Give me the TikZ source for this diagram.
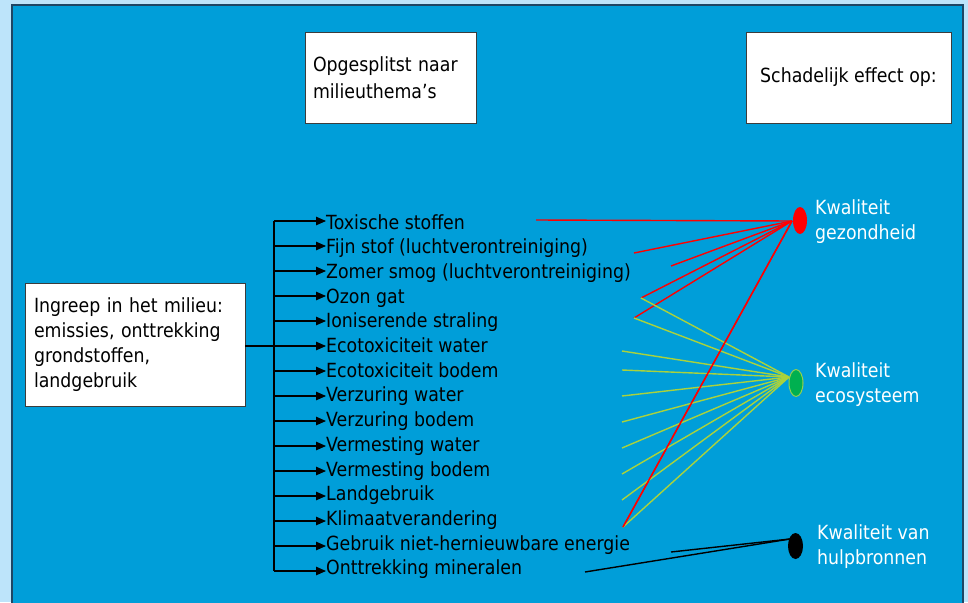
\documentclass[tikz,border=0pt]{standalone}
\usepackage{fontspec}
\setmainfont[FakeStretch=0.89]{DejaVu Sans}
\usetikzlibrary{arrows.meta,shapes.geometric}
\definecolor{outerbg}{RGB}{189,228,250}
\definecolor{panel}{RGB}{0,158,217}
\definecolor{panelborder}{RGB}{30,70,100}
\definecolor{boxborder}{RGB}{60,60,60}
\definecolor{redline}{RGB}{255,0,0}
\definecolor{greenline}{RGB}{170,210,60}
\definecolor{ecofill}{RGB}{0,176,80}
\definecolor{ecoborder}{RGB}{146,208,80}
\begin{document}
\begin{tikzpicture}[x=1pt,y=-1pt,
  txt/.style={font=\fontsize{19.5}{25}\selectfont, inner sep=0pt},
  whitebox/.style={txt, draw=boxborder, line width=0.8pt, fill=white},
  itemtext/.style={txt, anchor=base west, text=black},
  label/.style={txt, anchor=base west, text=white, align=left},
  branch/.style={line width=1.1pt, draw=black, -{Triangle[length=10pt,width=8.5pt]}},
  trunkline/.style={line width=1.1pt, draw=black},
  redl/.style={line width=1.4pt, draw=redline},
  greenl/.style={line width=1.4pt, draw=greenline},
  blackl/.style={line width=1.4pt, draw=black},
  dot/.style={ellipse, inner sep=0pt, minimum width=14pt, minimum height=27pt}
]
\useasboundingbox (0,0) rectangle (968,602);
\fill[outerbg] (0,0) rectangle (968,602);
\filldraw[fill=panel, draw=panelborder, line width=1.2pt] (12,5) rectangle (963,620);

% header boxes
\node[whitebox, minimum width=171pt, minimum height=91pt, inner xsep=8pt, text width=155pt, align=left,
      font=\fontsize{19.5}{27.5}\selectfont] (split) at (390.5,77.5) {Opgesplitst naar\\milieuthema’s};
\node[whitebox, minimum width=205pt, minimum height=91pt, align=center] (effect) at (848.5,77.5) {Schadelijk effect op:};

% source box
\node[whitebox, minimum width=220pt, minimum height=123pt, inner xsep=9pt, text width=202pt, align=left] (ingreep) at (135,344.5)
  {Ingreep in het milieu:\\emissies, onttrekking\\grondstoffen,\\landgebruik};

% items
\foreach \i/\t in {0/{Toxische stoffen},1/{Fijn stof (luchtverontreiniging)},2/{Zomer smog (luchtverontreiniging)},
  3/{Ozon gat},4/{Ioniserende straling},5/{Ecotoxiciteit water},6/{Ecotoxiciteit bodem},7/{Verzuring water},
  8/{Verzuring bodem},9/{Vermesting water},10/{Vermesting bodem},11/{Landgebruik},12/{Klimaatverandering},
  13/{Gebruik niet-hernieuwbare energie},14/{Onttrekking mineralen}}{
  \pgfmathsetmacro\yl{221+25*\i}
  \pgfmathsetmacro\yb{229+24.7*\i}
  \node[itemtext] (t\i) at (326,\yb) {\t};
  \coordinate (j\i) at (274,\yl);
  \coordinate (e\i) at (326,\yl);
  \draw[branch] (j\i) -- (e\i);
}
\draw[trunkline] (j0) -- (j14);
\draw[trunkline] (ingreep.east |- j5) -- (j5);

% effect markers
\node[dot, fill=redline] (health) at (800,220.5) {};
\node[dot, fill=ecofill, draw=ecoborder, line width=1pt] (eco) at (796,383) {};
\node[dot, fill=black, minimum width=15pt, minimum height=26pt] (res) at (795.5,546) {};

\node[label] (lhealth) at (815,239) {Kwaliteit\\gezondheid};
\node[label] (leco) at (815,402) {Kwaliteit\\ecosysteem};
\node[label] (lres) at (817,564) {Kwaliteit van\\hulpbronnen};

% hubs
\coordinate (hr) at (792,221);
\coordinate (hg) at (789,377);
\coordinate (hb) at (790,539);

% red lines
\coordinate (r0) at (536,220);
\coordinate (r1) at (634,253);
\coordinate (r2) at (671,266);
\coordinate (r3) at (641,298);
\coordinate (r4) at (634,318);
\coordinate (r5) at (623,527);
\foreach \k in {0,...,5}{\draw[redl] (r\k) -- (hr);}

% green lines
\coordinate (g0) at (641,298);
\coordinate (g1) at (634,318);
\coordinate (g2) at (622,351);
\coordinate (g3) at (622,370);
\coordinate (g4) at (622,396);
\coordinate (g5) at (622,422);
\coordinate (g6) at (622,448);
\coordinate (g7) at (622,474);
\coordinate (g8) at (622,500);
\coordinate (g9) at (623,527);
\foreach \k in {0,...,9}{\draw[greenl] (g\k) -- (hg);}
\draw[redl] (r5) -- (hr);

% black lines
\coordinate (b0) at (671,552);
\coordinate (b1) at (585,572);
\foreach \k in {0,1}{\draw[blackl] (b\k) -- (hb);}
\end{tikzpicture}
\end{document}
